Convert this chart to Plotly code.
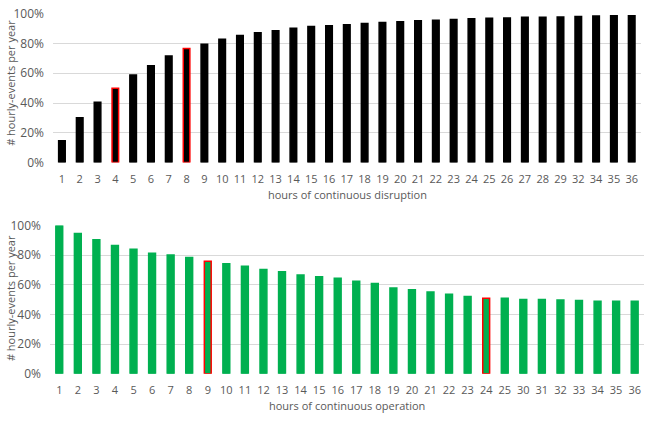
import plotly.graph_objects as go

# ---- data ----
top_hours = [str(h) for h in list(range(1, 30)) + [32, 34, 35, 36]]
top_values = [14.6, 30.1, 40.6, 49.9, 58.9, 65.0, 71.6, 76.6, 79.6, 82.8,
              85.4, 87.3, 88.6, 90.3, 91.4, 92.0, 92.7, 93.5, 94.2, 94.6,
              95.3, 95.7, 96.1, 96.6, 97.0, 97.2, 97.6, 97.6, 97.8, 98.1,
              98.5, 98.7, 98.7]
top_highlight = ["4", "8"]

bot_hours = [str(h) for h in list(range(1, 26)) + [30, 31, 32, 33, 34, 35, 36]]
bot_values = [100.0, 94.6, 90.5, 86.6, 84.0, 81.4, 80.1, 78.5, 75.9, 74.2,
              72.5, 70.3, 68.8, 66.6, 65.5, 64.4, 62.5, 60.9, 57.9, 56.6,
              55.1, 53.6, 52.1, 51.0, 50.9, 50.1, 50.1, 49.7, 49.5, 49.0,
              49.0, 49.0]
bot_highlight = ["9", "24"]

TXT = "#595959"
GRID = "#d9d9d9"
FONT = "Open Sans"

def outline(cats, hl, base):
    return [("#ff0000" if c in hl else base) for c in cats]

fig = go.Figure()
fig.add_trace(go.Bar(
    x=top_hours, y=[v / 100 for v in top_values], xaxis="x", yaxis="y",
    marker=dict(color="#000000", line=dict(color=outline(top_hours, top_highlight, "#000000"), width=1.5)),
    showlegend=False))
fig.add_trace(go.Bar(
    x=bot_hours, y=[v / 100 for v in bot_values], xaxis="x2", yaxis="y2",
    marker=dict(color="#00b050", line=dict(color=outline(bot_hours, bot_highlight, "#00b050"), width=1.5)),
    showlegend=False))

ax_common = dict(type="category", showgrid=False, zeroline=False, showline=False,
                 ticks="", ticklabelstandoff=8,
                 tickfont=dict(family=FONT, size=11, color=TXT))
y_common = dict(range=[0, 1], tickformat=".0%", dtick=0.2, showgrid=True, gridcolor=GRID,
                gridwidth=1, zeroline=False, showline=False, ticks="", ticklabelstandoff=8,
                tickfont=dict(family=FONT, size=12, color=TXT))

fig.update_layout(
    width=645, height=422, margin=dict(l=0, r=0, t=0, b=0),
    paper_bgcolor="white", plot_bgcolor="white", bargap=0.63,
    xaxis=dict(domain=[0.0822, 0.9932], anchor="y", categoryorder="array",
               categoryarray=top_hours, **ax_common),
    yaxis=dict(domain=[0.6209, 0.9882], anchor="x", **y_common),
    xaxis2=dict(domain=[0.0775, 0.9984], anchor="y2", categoryorder="array",
                categoryarray=bot_hours, **ax_common),
    yaxis2=dict(domain=[0.0995, 0.4652], anchor="x2", **y_common),
    annotations=[
        dict(text="hours of continuous disruption", x=0.538, y=0.5427, xref="paper", yref="paper",
             showarrow=False, font=dict(family=FONT, size=11, color=TXT), xanchor="center", yanchor="middle"),
        dict(text="hours of continuous operation", x=0.538, y=0.0213, xref="paper", yref="paper",
             showarrow=False, font=dict(family=FONT, size=11, color=TXT), xanchor="center", yanchor="middle"),
        dict(text="# hourly-events per year", x=0.0163, y=0.8164, xref="paper", yref="paper", textangle=-90,
             showarrow=False, font=dict(family=FONT, size=11, color=TXT), xanchor="center", yanchor="middle"),
        dict(text="# hourly-events per year", x=0.0163, y=0.285, xref="paper", yref="paper", textangle=-90,
             showarrow=False, font=dict(family=FONT, size=11, color=TXT), xanchor="center", yanchor="middle"),
    ],
)

fig.write_html("out.html")
